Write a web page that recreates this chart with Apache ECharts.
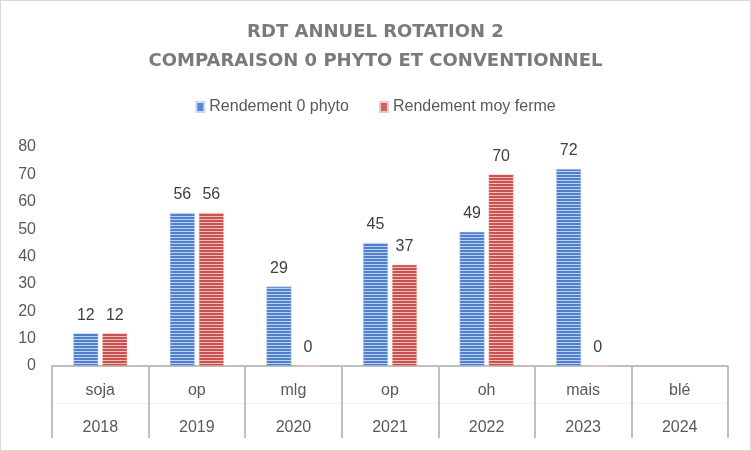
<!DOCTYPE html>
<html>
<head>
<meta charset="utf-8">
<script src="https://cdn.jsdelivr.net/npm/echarts@6/dist/echarts.min.js"></script>
<style>
html,body{margin:0;padding:0;background:#fff;}
#chart{width:751px;height:451px;box-sizing:border-box;border:1px solid #d9d9d9;}
</style>
</head>
<body>
<div id="chart"></div>
<script>
const crops = ['soja', 'op', 'mlg', 'op', 'oh', 'mais', 'blé'];
const years = ['2018', '2019', '2020', '2021', '2022', '2023', '2024'];
const zeroPhyto = [12, 56, 29, 45, 49, 72, null];
const moyFerme = [12, 56, 0, 37, 70, 0, null];
const yTicks = [0, 10, 20, 30, 40, 50, 60, 70, 80];

function stripe(dark, light) {
  const c = document.createElement('canvas');
  c.width = 4; c.height = 3;
  const g = c.getContext('2d');
  g.fillStyle = dark; g.fillRect(0, 0, 4, 2);
  g.fillStyle = light; g.fillRect(0, 2, 4, 1);
  return { image: c, repeat: 'repeat' };
}
const blueFill = stripe('#5080cb', '#bcd0f0');
const redFill = stripe('#c7524f', '#f1bcba');

const font = 'Liberation Sans';
const chart = echarts.init(document.getElementById('chart'), null, { renderer: 'canvas' });
chart.setOption({
  animation: false,
  title: {
    text: 'RDT ANNUEL ROTATION 2\nCOMPARAISON 0 PHYTO ET CONVENTIONNEL',
    left: 'center', top: 12,
    textStyle: { fontFamily: 'DejaVu Sans', fontWeight: 'bold', fontSize: 18, color: '#7a7a7a', lineHeight: 29 }
  },
  legend: {
    top: 93, left: 'center', itemWidth: 8, itemHeight: 10, itemGap: 30,
    icon: 'rect',
    textStyle: { fontFamily: font, fontSize: 16, color: '#595959' },
    data: [
      { name: 'Rendement 0 phyto', itemStyle: { color: '#5a86cf' } },
      { name: 'Rendement moy ferme', itemStyle: { color: '#cc6462' } }
    ]
  },
  grid: { left: 51, right: 22, top: 146, bottom: 84, containLabel: false },
  xAxis: [
    {
      type: 'category', data: crops, position: 'bottom',
      axisLine: { lineStyle: { color: '#bfbfbf', width: 2 } },
      axisTick: { show: true, length: 72, lineStyle: { color: '#bfbfbf', width: 2 } },
      axisLabel: { fontFamily: font, fontSize: 16, color: '#595959', margin: 17 }
    },
    {
      type: 'category', data: years, position: 'bottom', offset: 37,
      axisLine: { show: true, lineStyle: { color: '#f2f2f2', width: 1 } },
      axisTick: { show: false },
      axisLabel: { fontFamily: font, fontSize: 16, color: '#595959', margin: 17 }
    }
  ],
  yAxis: {
    type: 'value', min: 0, max: 80, interval: 10,
    axisLine: { show: false }, axisTick: { show: false },
    splitLine: { show: false },
    axisLabel: { fontFamily: font, fontSize: 16, color: '#595959', margin: 16 }
  },
  series: [
    {
      name: 'Rendement 0 phyto', type: 'bar', data: zeroPhyto, xAxisIndex: 0,
      barWidth: 25, barGap: '16%',
      itemStyle: { color: blueFill, borderColor: '#c9d8f0', borderWidth: 0.5 },
      label: { show: true, position: 'top', distance: 10, fontFamily: font, fontSize: 16, color: '#404040' }
    },
    {
      name: 'Rendement moy ferme', type: 'bar', data: moyFerme, xAxisIndex: 0,
      barWidth: 25, barGap: '16%',
      itemStyle: { color: redFill, borderColor: '#f0c8c7', borderWidth: 0.5 },
      label: { show: true, position: 'top', distance: 10, fontFamily: font, fontSize: 16, color: '#404040' }
    }
  ]
});
</script>
</body>
</html>
